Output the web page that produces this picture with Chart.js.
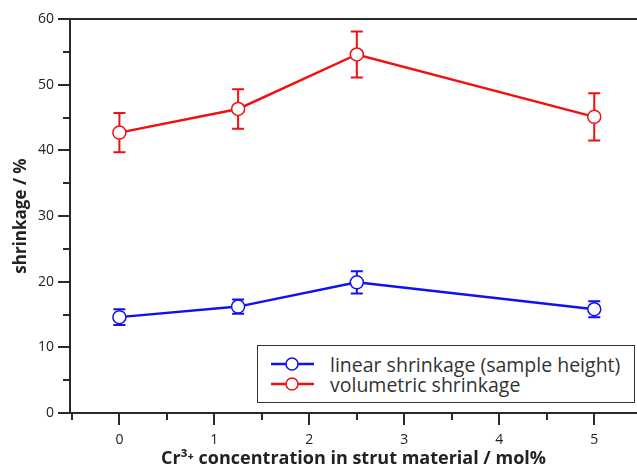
<!DOCTYPE html>
<html>
<head>
<meta charset="utf-8">
<script src="https://cdn.jsdelivr.net/npm/chart.js@4/dist/chart.umd.min.js"></script>
<style>
  html, body { margin: 0; padding: 0; background: #fff; }
  #wrap { position: relative; width: 637px; height: 470px; }
  #legend {
    position: absolute; left: 257px; top: 345px; width: 376px; height: 56px;
    border: 1.5px solid #333; background: #fff;
    font-family: "Open Sans", sans-serif; font-size: 19.5px; color: #333;
    padding: 0; box-sizing: content-box;
  }
  #legend .row { display: flex; align-items: center; height: 20px; }
  #legend .row:first-child { margin-top: 8px; }
  #legend svg { margin: 0 16px 0 13px; }
</style>
</head>
<body>
<div id="wrap">
  <canvas id="chart" width="637" height="470"></canvas>
  <div id="legend"></div>
</div>
<script>
const concentracao = [0, 1.25, 2.5, 5];
const linear = [14.6, 16.2, 19.9, 15.8];
const linearErro = [1.2, 1.1, 1.7, 1.2];
const volumetrica = [42.7, 46.3, 54.6, 45.1];
const volumetricaErro = [3.0, 3.0, 3.5, 3.6];
const xTicks = [0, 1, 2, 3, 4, 5];
const yTicks = [0, 10, 20, 30, 40, 50, 60];
const nomes = ["linear shrinkage (sample height)", "volumetric shrinkage"];
const cores = ["#1010f0", "#f01010"];

const eixo = "#2a2a2a";

function pontos(ys) {
  return concentracao.map((x, i) => ({ x: x, y: ys[i] }));
}

// barras de erro e marcas dos eixos
const extras = {
  id: 'extras',
  beforeDatasetsDraw(chart) {
    const ctx = chart.ctx;
    const xs = chart.scales.x, ys = chart.scales.y;
    chart.data.datasets.forEach(ds => {
      ctx.save();
      ctx.strokeStyle = ds.borderColor;
      ctx.lineWidth = 2;
      ds.erro.forEach((e, i) => {
        const px = xs.getPixelForValue(ds.data[i].x);
        const top = ys.getPixelForValue(ds.data[i].y + e);
        const bot = ys.getPixelForValue(ds.data[i].y - e);
        ctx.beginPath();
        ctx.moveTo(px, top); ctx.lineTo(px, bot);
        ctx.moveTo(px - 6, top); ctx.lineTo(px + 6, top);
        ctx.moveTo(px - 6, bot); ctx.lineTo(px + 6, bot);
        ctx.stroke();
      });
      ctx.restore();
    });
  },
  afterDraw(chart) {
    const ctx = chart.ctx;
    const a = chart.chartArea;
    const xs = chart.scales.x, ys = chart.scales.y;
    ctx.save();
    ctx.strokeStyle = eixo;
    ctx.lineWidth = 2;
    ctx.beginPath();
    ctx.moveTo(a.left, a.top); ctx.lineTo(a.right, a.top);
    for (let v = 0; v <= 60; v += 5) {
      const py = Math.round(ys.getPixelForValue(v));
      ctx.moveTo(a.left, py); ctx.lineTo(a.left - (v % 10 === 0 ? 12 : 7), py);
    }
    for (let v = -0.5; v <= 5.5; v += 0.5) {
      const px = Math.round(xs.getPixelForValue(v));
      if (px > a.right) continue;
      ctx.moveTo(px, a.bottom); ctx.lineTo(px, a.bottom + (Number.isInteger(v) ? 12 : 7));
    }
    ctx.stroke();
    ctx.restore();
  }
};

const ctx = document.getElementById('chart').getContext('2d');
const grafico = new Chart(ctx, {
  type: 'scatter',
  data: {
    datasets: [
      { label: nomes[0], data: pontos(linear), erro: linearErro },
      { label: nomes[1], data: pontos(volumetrica), erro: volumetricaErro }
    ].map((ds, i) => Object.assign(ds, {
      showLine: true,
      borderColor: cores[i],
      backgroundColor: '#fff',
      borderWidth: 2.5,
      pointRadius: 6.5,
      pointBorderWidth: 1.5,
      pointBackgroundColor: '#fff',
      pointBorderColor: cores[i]
    }))
  },
  options: {
    responsive: false,
    animation: false,
    layout: { autoPadding: false, padding: { top: 19, right: 0, left: 11, bottom: 0 } },
    plugins: { legend: { display: false }, tooltip: { enabled: false } },
    scales: {
      x: {
        type: 'linear', min: -0.52, max: 5.45,
        grid: { display: false, drawTicks: false },
        border: { display: true, color: eixo, width: 2 },
        afterBuildTicks: s => { s.ticks = xTicks.map(v => ({ value: v })); },
        ticks: {
          autoSkip: false, padding: 19, color: '#222',
          font: { family: 'Open Sans', size: 14 }
        },
        title: {
          display: true, text: 'Cr³⁺ concentration in strut material / mol%',
          color: '#222', font: { family: 'Open Sans', size: 18, weight: 'bold' },
          padding: { top: 0, bottom: 0 }
        },
        afterFit: s => { s.height = 57; s.paddingLeft = 0; s.paddingRight = 0; }
      },
      y: {
        min: 0, max: 60,
        grid: { display: false, drawTicks: false },
        border: { display: true, color: eixo, width: 2 },
        afterBuildTicks: s => { s.ticks = yTicks.map(v => ({ value: v })); },
        ticks: {
          autoSkip: false, padding: 16, color: '#222',
          font: { family: 'Open Sans', size: 14 }
        },
        title: {
          display: true, text: 'shrinkage / %',
          color: '#222', font: { family: 'Open Sans', size: 17, weight: 'bold' },
          padding: { top: 0, bottom: 0 }
        },
        afterFit: s => { s.width = 59; s.paddingTop = 0; s.paddingBottom = 0; }
      }
    }
  },
  plugins: [extras]
});

// legenda em HTML
const legenda = document.getElementById('legend');
nomes.forEach((n, i) => {
  const row = document.createElement('div');
  row.className = 'row';
  row.innerHTML = `<svg width="43" height="16"><line x1="0" y1="8" x2="43" y2="8" stroke="${cores[i]}" stroke-width="2.5"/>` +
    `<circle cx="21" cy="8" r="6" fill="#fff" stroke="${cores[i]}" stroke-width="1.5"/></svg><span>${n}</span>`;
  legenda.appendChild(row);
});
</script>
</body>
</html>
